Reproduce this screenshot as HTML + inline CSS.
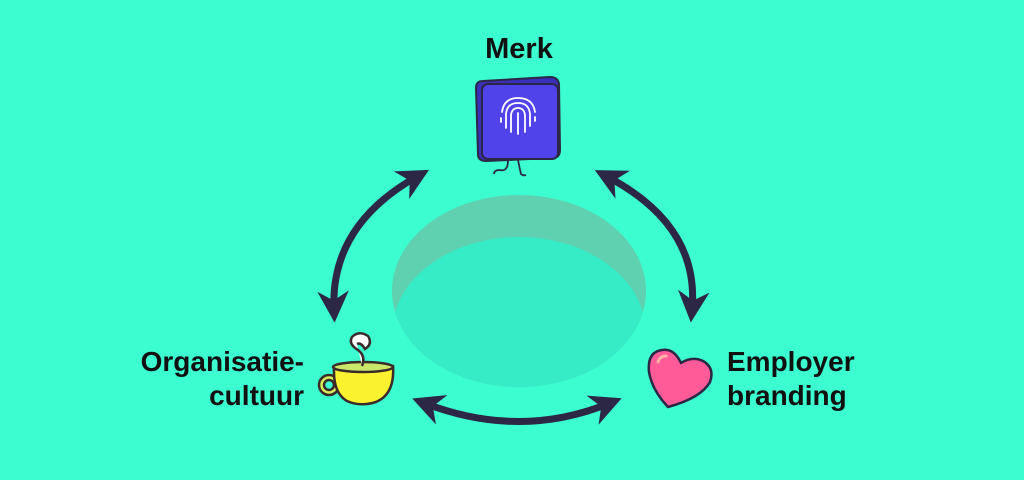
<!DOCTYPE html>
<html><head><meta charset="utf-8"><style>
html,body{margin:0;padding:0;width:1024px;height:480px;overflow:hidden;background:#3cfdd0}
svg{display:block}
text{font-family:"Liberation Sans",sans-serif;font-weight:bold;fill:#111}
</style></head><body>
<svg width="1024" height="480" viewBox="0 0 1024 480">
<defs>
<clipPath id="hc"><ellipse cx="519" cy="291" rx="127" ry="96"/></clipPath>
<marker id="ah" viewBox="0 0 10 10" refX="6" refY="5" markerWidth="4.5" markerHeight="4.5" orient="auto-start-reverse" markerUnits="strokeWidth">
<path d="M0,0 L10,5 L0,10 L3,5 Z" fill="#2b2745"/></marker>
</defs>
<rect width="1024" height="480" fill="#3cfdd0"/>
<ellipse cx="519" cy="291" rx="127" ry="96" fill="#5fd1b0"/>
<g clip-path="url(#hc)"><ellipse cx="519" cy="333" rx="127" ry="96" fill="#36ecc6"/></g>

<g fill="none" stroke="#2b2745" stroke-width="7" stroke-linecap="round">
<path d="M418,176 Q330,225 334,310" marker-start="url(#ah)" marker-end="url(#ah)"/>
<path d="M606,176 Q700,225 692,310" marker-start="url(#ah)" marker-end="url(#ah)"/>
<path d="M424,403 Q520,440 610,403" marker-start="url(#ah)" marker-end="url(#ah)"/>
</g>

<text x="519" y="58" font-size="29" text-anchor="middle">Merk</text>
<text x="304" y="371" font-size="28" text-anchor="end">Organisatie-</text>
<text x="304" y="405" font-size="28" text-anchor="end">cultuur</text>
<text x="727" y="371" font-size="28">Employer</text>
<text x="727" y="405" font-size="28">branding</text>

<!-- Merk box -->
<g stroke="#2b2745" stroke-width="2">
<path d="M476,88 Q476,81 483,81 L550,77 Q558,77 559,84 L560,150 Q560,158 552,158 L486,161 Q478,161 478,154 Z" fill="#3a2fb8"/>
<rect x="482" y="84" width="76" height="75" rx="6" fill="#5143ea"/>
</g>
<path d="M508,160 Q508,172 500,170 Q494,170 494,174 M518,160 Q520,170 521,174 Q523,176 526,175" stroke="#2b2745" stroke-width="1.8" fill="none"/>
<g stroke="#fff" stroke-width="1.8" fill="none" stroke-linecap="round">
<path d="M502,112 Q504,98 518,98 Q533,98 535,112"/>
<path d="M506,128 L506,114 Q507,103 518,103 Q529,103 530,114 L530,126"/>
<path d="M511,132 L511,115 Q512,108 518,108 Q524,108 525,115 L525,132"/>
<path d="M518,113 L518,134"/>
<path d="M501,118 L501,122 M535,117 L535,121"/>
</g>

<!-- cup -->
<g stroke="#3a2a2a" stroke-width="2.5">
<circle cx="329" cy="385" r="10" fill="#d6ee5c"/>
<circle cx="329" cy="385" r="5" fill="#3cfdd0"/>
<path d="M334,368 L393,366 Q395,394 376,402 Q360,407 347,401 Q333,393 334,368 Z" fill="#fbf22f"/>
<ellipse cx="363" cy="367" rx="30" ry="5" fill="#c9e86a"/>
<path d="M362,366 Q366,356 358,350 Q348,344 352,337 Q359,330 368,336 Q373,344 365,349 Q361,342 357,344" fill="#fff"/>
</g>

<!-- heart -->
<path d="M668,407 Q652,390 649,372 Q647,352 662,350 Q674,348 681,363 Q692,356 703,361 Q715,368 710,382 Q701,398 668,407 Z" fill="#ff5b98" stroke="#2b2745" stroke-width="2.5" stroke-linejoin="round"/>
<path d="M658,362 Q660,356 666,356" stroke="#ffb0a8" stroke-width="3" fill="none" stroke-linecap="round"/>
</svg>
</body></html>
